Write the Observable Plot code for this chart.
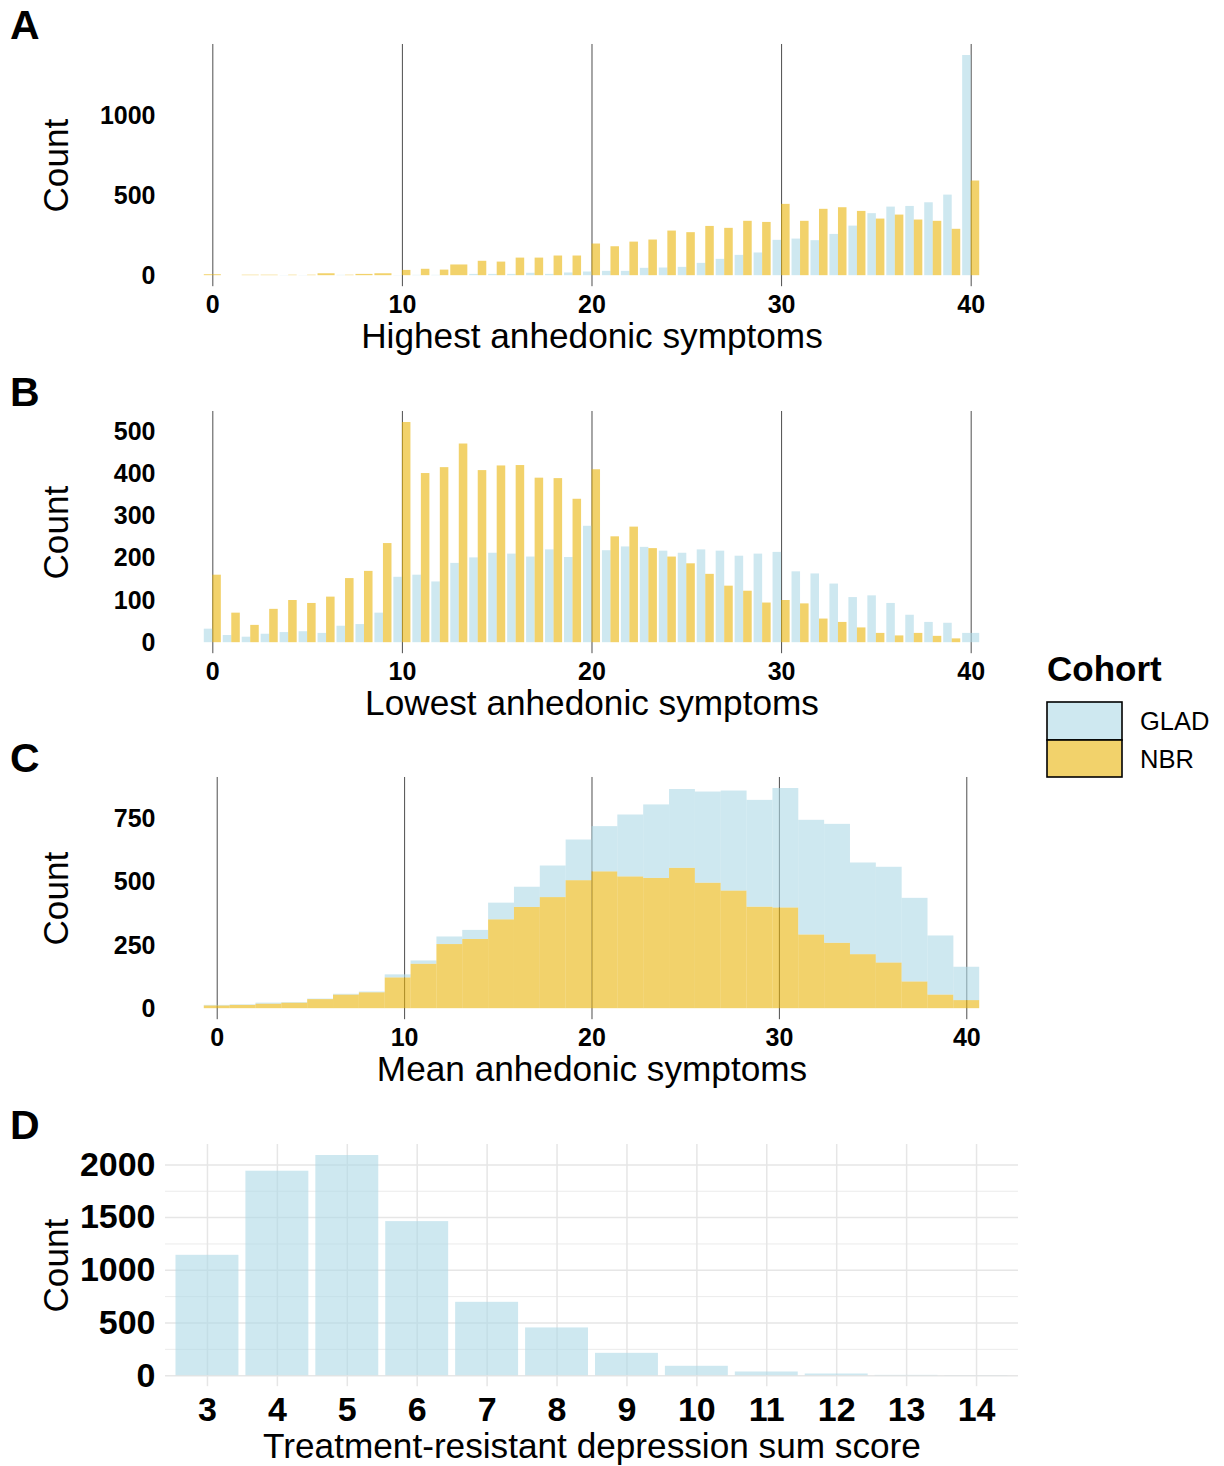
<!DOCTYPE html>
<html>
<head>
<meta charset="utf-8">
<script src="https://cdn.jsdelivr.net/npm/d3@7"></script>
<script src="https://cdn.jsdelivr.net/npm/@observablehq/plot@0.6"></script>
<style>
  html, body { margin: 0; padding: 0; background: #fff; }
  #root { position: relative; width: 1224px; height: 1466px; overflow: hidden; background: #fff; }
  #root svg { position: absolute; left: 0; }
</style>
</head>
<body>
<div id="root"></div>
<script>
// ---------------- DATA ----------------
const cohorts = ["GLAD", "NBR"];
const cohortColors = ["#add8e6", "#e9b408"];

// Panel A & B: score categories 0..40
const scoreValues = [0,1,2,3,4,5,6,7,8,9,10,11,12,13,14,15,16,17,18,19,20,
                     21,22,23,24,25,26,27,28,29,30,31,32,33,34,35,36,37,38,39,40];

// A: Highest anhedonic symptoms (null = cohort absent at that score)
const highestGLAD = [null,null,null,null,1,1,null,2,null,null,1,2,2,null,8,8,8,15,8,17,
                     23,27,27,46,48,52,77,102,127,142,221,229,219,258,310,388,429,433,456,504,1377];
const highestNBR  = [6,null,3,3,3,3,12,3,8,12,33,40,35,67,90,85,110,110,123,123,
                     198,181,210,223,279,269,308,296,340,333,446,340,415,425,402,354,379,348,340,290,592];

// B: Lowest anhedonic symptoms
const lowestGLAD = [32,17,13,20,24,26,22,39,43,70,155,160,144,188,201,212,210,203,220,202,
                    276,218,227,226,217,212,220,217,205,210,214,168,163,139,107,111,93,65,48,46,22];
const lowestNBR  = [160,70,41,79,100,93,108,152,169,235,522,401,415,471,408,419,420,390,389,340,
                    410,251,274,223,203,187,162,134,122,94,100,92,56,48,35,22,16,22,15,9,null];

// C: Mean anhedonic symptoms, 30 histogram bins over 0..40 (stacked, GLAD on top)
const meanRange = [0, 40];
const meanBins = 30;
const meanNBR  = [11,13,18,22,36,54,63,122,176,254,274,352,401,440,507,542,522,516,556,497,
                  466,402,399,292,259,214,181,106,54,32];
const meanGLAD = [2,2,4,2,2,3,3,12,13,30,36,66,80,125,161,179,245,291,312,361,
                  396,423,473,454,471,363,379,331,234,132];

// D: Treatment-resistant depression sum score (GLAD)
const trdScores = [3,4,5,6,7,8,9,10,11,12,13,14];
const trdCounts = [1142,1940,2089,1462,696,453,212,89,35,16,3,1];

// Ticks & labels
const xTicks040 = [0,10,20,30,40];
const highestTicksY = [0,500,1000];
const lowestTicksY = [0,100,200,300,400,500];
const meanTicksY = [0,250,500,750];
const trdTicksY = [0,500,1000,1500,2000];
const trdMinorY = [250,750,1250,1750];
const panelTags = ["A","B","C","D"];
const xTitles = ["Highest anhedonic symptoms","Lowest anhedonic symptoms","Mean anhedonic symptoms","Treatment-resistant depression sum score"];
const yTitle = "Count";
const legendTitle = "Cohort";

// ---------------- LAYOUT ----------------
const FONT = '"Liberation Sans", Arial, Helvetica, sans-serif';
const W = 1030, ML = 165, MR = 12;
const frameH = 242.2;
const frameTops = [43.6, 410.6, 777.3, 1143.6];
const fillAlpha = 0.6;
const titleSize = 35.2;
const root = document.getElementById("root");

function dodgeRows(values, glad, nbr) {
  const rows = [];
  values.forEach((v, i) => {
    const g = glad[i], n = nbr[i];
    const both = g != null && n != null;
    if (g != null) rows.push({cohort: "GLAD", x1: v - 0.45, x2: both ? v : v + 0.45, y1: 0, y2: g});
    if (n != null) rows.push({cohort: "NBR", x1: both ? v : v - 0.45, x2: v + 0.45, y1: 0, y2: n});
  });
  return rows;
}

function stackedHistRows() {
  const w = (meanRange[1] - meanRange[0]) / (meanBins - 1);
  const rows = [];
  meanNBR.forEach((n, i) => {
    const c = meanRange[0] + i * w;
    rows.push({cohort: "NBR", x1: c - w / 2, x2: c + w / 2, y1: 0, y2: n});
    rows.push({cohort: "GLAD", x1: c - w / 2, x2: c + w / 2, y1: n, y2: n + meanGLAD[i]});
  });
  return rows;
}

function expand(lo, hi) { const r = hi - lo; return [lo - 0.05 * r, hi + 0.05 * r]; }

function yTitleMark(fs) {
  return Plot.text([yTitle], {text: d => d, frameAnchor: "left", textAnchor: "middle", rotate: -90, dx: -98,
    lineAnchor: "bottom", fontSize: fs});
}

function place(svg, top, mt) {
  svg.style.top = (top - mt) + "px";
  root.appendChild(svg);
}

function histPanel(idx, rows, yTicks) {
  const mt = 30, mb = 90;
  const xDomain = expand(d3.min(rows, d => d.x1), d3.max(rows, d => d.x2));
  const yDomain = expand(0, d3.max(rows, d => d.y2));
  const svg = Plot.plot({
    width: W, height: mt + frameH + mb,
    marginTop: mt, marginBottom: mb, marginLeft: ML, marginRight: MR,
    style: {fontFamily: FONT, color: "#000", background: "transparent", overflow: "visible"},
    x: {domain: xDomain},
    y: {domain: yDomain},
    color: {domain: cohorts, range: cohortColors},
    marks: [
      Plot.ruleX(xTicks040, {stroke: "#4d4d4d", strokeWidth: 1}),
      Plot.rect(rows, {x1: "x1", x2: "x2", y1: "y1", y2: "y2", fill: "cohort", fillOpacity: fillAlpha}),
      Plot.axisX({ticks: xTicks040, tickSize: 0, tickPadding: 9, fontSize: 25, fontWeight: "bold",
        tickFormat: d => String(d), label: null}),
      Plot.axisY({ticks: yTicks, tickSize: 0, tickPadding: 10, fontSize: 25, fontWeight: "bold",
        tickFormat: d => String(d), label: null}),
      Plot.text([xTitles[idx]], {text: d => d, frameAnchor: "bottom", dy: 61, lineAnchor: "bottom", fontSize: titleSize}),
      yTitleMark(titleSize)
    ]
  });
  place(svg, frameTops[idx], mt);
}

histPanel(0, dodgeRows(scoreValues, highestGLAD, highestNBR), highestTicksY);
histPanel(1, dodgeRows(scoreValues, lowestGLAD, lowestNBR), lowestTicksY);
histPanel(2, stackedHistRows(), meanTicksY);

// Panel D
(function () {
  const mt = 30, mb = 100;
  const data = trdScores.map((s, i) => ({score: s, count: trdCounts[i]}));
  const svg = Plot.plot({
    width: W, height: mt + frameH + mb,
    marginTop: mt, marginBottom: mb, marginLeft: ML, marginRight: MR,
    style: {fontFamily: FONT, color: "#000", background: "transparent", overflow: "visible"},
    x: {type: "band", domain: trdScores, paddingInner: 0.1, paddingOuter: 0.15, round: false},
    y: {domain: expand(0, d3.max(trdCounts))},
    marks: [
      Plot.gridY(trdMinorY, {stroke: "#ebebeb", strokeOpacity: 1, strokeWidth: 1}),
      Plot.gridY(trdTicksY, {stroke: "#e6e6e6", strokeOpacity: 1, strokeWidth: 1.5}),
      Plot.gridX(trdScores, {stroke: "#e6e6e6", strokeOpacity: 1, strokeWidth: 1.5}),
      Plot.barY(data, {x: "score", y: "count", fill: cohortColors[0], fillOpacity: fillAlpha}),
      Plot.axisX({ticks: trdScores, tickSize: 0, tickPadding: 10, fontSize: 34, fontWeight: "bold",
        tickFormat: d => String(d), label: null}),
      Plot.axisY({ticks: trdTicksY, tickSize: 0, tickPadding: 10, fontSize: 34, fontWeight: "bold",
        tickFormat: d => String(d), label: null}),
      Plot.text([xTitles[3]], {text: d => d, frameAnchor: "bottom", dy: 71, lineAnchor: "bottom", fontSize: titleSize}),
      yTitleMark(titleSize)
    ]
  });
  place(svg, frameTops[3], mt);
})();

// Panel tags and legend overlay
(function () {
  const svg = d3.create("svg").attr("width", 1224).attr("height", 1466)
    .style("top", "0px").style("pointer-events", "none")
    .attr("font-family", FONT);
  const tagBaselines = [39, 405.7, 772.3, 1139];
  svg.selectAll("text.tag").data(panelTags).join("text").attr("class", "tag")
    .attr("x", 10).attr("y", (d, i) => tagBaselines[i])
    .attr("font-size", 41).attr("font-weight", "bold").attr("fill", "#000").text(d => d);

  const lg = svg.append("g");
  lg.append("text").attr("x", 1047).attr("y", 681).attr("font-size", 35).attr("font-weight", "bold")
    .attr("fill", "#000").text(legendTitle);
  const keyTop = [702, 740], keyH = [38, 37];
  cohorts.forEach((c, i) => {
    lg.append("rect").attr("x", 1047).attr("y", keyTop[i]).attr("width", 75).attr("height", keyH[i])
      .attr("fill", "#fff");
    lg.append("rect").attr("x", 1047).attr("y", keyTop[i]).attr("width", 75).attr("height", keyH[i])
      .attr("fill", cohortColors[i]).attr("fill-opacity", fillAlpha)
      .attr("stroke", "#000").attr("stroke-width", 1.6);
    lg.append("text").attr("x", 1140).attr("y", keyTop[i] + keyH[i] / 2 + 9).attr("font-size", 25.5)
      .attr("fill", "#000").text(c);
  });
  root.appendChild(svg.node());
})();
</script>
</body>
</html>
